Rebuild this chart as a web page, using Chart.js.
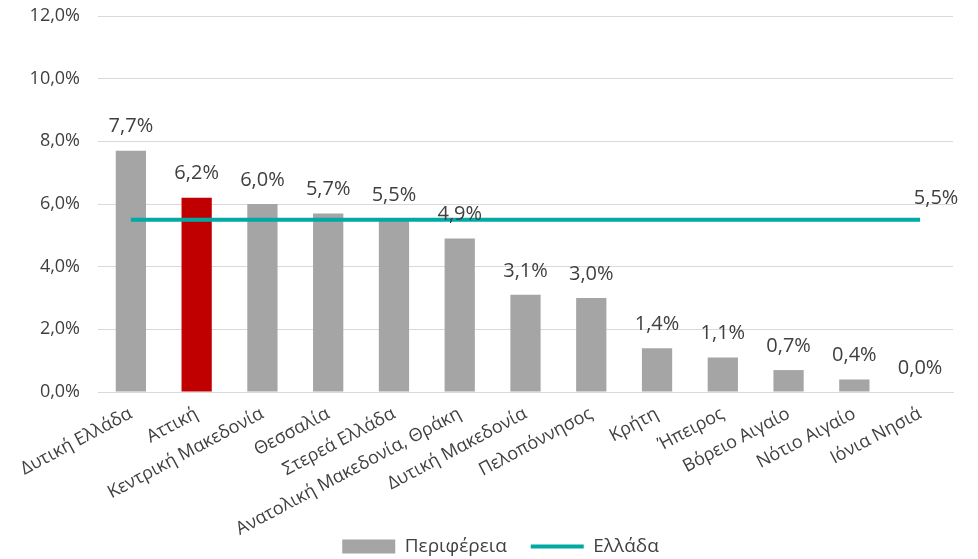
<!DOCTYPE html>
<html>
<head>
<meta charset="utf-8">
<script src="https://cdn.jsdelivr.net/npm/chart.js@4/dist/chart.umd.min.js"></script>
<style>
  html, body { margin: 0; padding: 0; background: #fff; }
  #wrap { width: 978px; height: 559px; }
</style>
</head>
<body>
<div id="wrap"><canvas id="chart"></canvas></div>
<script>
// Regions and their values (%)
const regions = [
    'Δυτική Ελλάδα', 'Αττική', 'Κεντρική Μακεδονία', 'Θεσσαλία', 'Στερεά Ελλάδα',
    'Ανατολική Μακεδονία, Θράκη', 'Δυτική Μακεδονία', 'Πελοπόννησος', 'Κρήτη',
    'Ήπειρος', 'Βόρειο Αιγαίο', 'Νότιο Αιγαίο', 'Ιόνια Νησιά'
];
const regionValues = [7.7, 6.2, 6.0, 5.7, 5.5, 4.9, 3.1, 3.0, 1.4, 1.1, 0.7, 0.4, 0.0];
const greeceValues = [5.5, 5.5, 5.5, 5.5, 5.5, 5.5, 5.5, 5.5, 5.5, 5.5, 5.5, 5.5, 5.5];
const yTicks = [0, 2, 4, 6, 8, 10, 12];
const highlight = 'Αττική';

const GRAY = '#A5A5A5';
const RED = '#C00000';
const TEAL = '#00A9A4';
const FONT = "'Open Sans', sans-serif";

const fmt = v => v.toFixed(1).replace('.', ',') + '%';

// Draw value labels above bars and at the end of the line
const valueLabels = {
    id: 'valueLabels',
    afterDatasetsDraw(chart) {
        const ctx = chart.ctx;
        ctx.save();
        ctx.font = '20px ' + FONT;
        ctx.fillStyle = '#404040';
        ctx.textAlign = 'center';
        ctx.textBaseline = 'middle';
        chart.getDatasetMeta(0).data.forEach((bar, i) => {
            ctx.fillText(fmt(regionValues[i]), bar.x, bar.y - 24);
        });
        const pts = chart.getDatasetMeta(1).data;
        const last = pts[pts.length - 1];
        ctx.fillText(fmt(greeceValues[greeceValues.length - 1]), last.x + 16, last.y - 21);
        ctx.restore();
    }
};

// Let the long rotated labels run past the axis box, nudge the legend right
const layoutTweaks = {
    id: 'layoutTweaks',
    afterLayout(chart) {
        const x = chart.scales.x;
        x.bottom = x.top + 150;
        const legend = chart.legend;
        legend.left += 24;
        legend.right += 24;
    }
};

new Chart(document.getElementById('chart'), {
    type: 'bar',
    data: {
        labels: regions,
        datasets: [{
            label: 'Περιφέρεια',
            data: regionValues,
            backgroundColor: regions.map(r => r === highlight ? RED : GRAY),
            borderWidth: 0,
            barPercentage: 0.46,
            categoryPercentage: 1,
            pointStyle: 'rect',
            order: 2
        }, {
            type: 'line',
            label: 'Ελλάδα',
            data: greeceValues,
            borderColor: TEAL,
            backgroundColor: TEAL,
            borderWidth: 4,
            pointRadius: 0,
            pointStyle: 'line',
            order: 1
        }]
    },
    options: {
        responsive: true,
        maintainAspectRatio: false,
        animation: false,
        layout: { padding: { top: 16, right: 25, left: 0, bottom: -7 } },
        plugins: {
            tooltip: { enabled: false },
            legend: {
                position: 'bottom',
                labels: {
                    usePointStyle: true,
                    pointStyleWidth: 53,
                    boxHeight: 14,
                    padding: 24,
                    color: '#404040',
                    font: { family: FONT, size: 19 },
                    sort: (a, b) => a.datasetIndex - b.datasetIndex
                }
            }
        },
        scales: {
            x: {
                grid: { display: false },
                border: { display: true, color: '#D9D9D9', width: 1 },
                ticks: {
                    color: '#404040',
                    font: { family: FONT, size: 18 },
                    minRotation: 28,
                    maxRotation: 28,
                    autoSkip: false
                },
                afterFit(scale) { scale.height = 121; scale.paddingTop = 0; scale.paddingBottom = 0; }
            },
            y: {
                min: 0,
                max: 12,
                afterBuildTicks(scale) { scale.ticks = yTicks.map(v => ({ value: v })); },
                grid: { color: '#D9D9D9', lineWidth: 1, drawTicks: false },
                border: { display: false },
                ticks: {
                    color: '#404040',
                    padding: 18,
                    font: { family: FONT, size: 18 },
                    callback: v => fmt(v)
                },
                afterFit(scale) { scale.width = 98; scale.paddingTop = 0; scale.paddingBottom = 0; }
            }
        }
    },
    plugins: [valueLabels, layoutTweaks]
});
</script>
</body>
</html>
